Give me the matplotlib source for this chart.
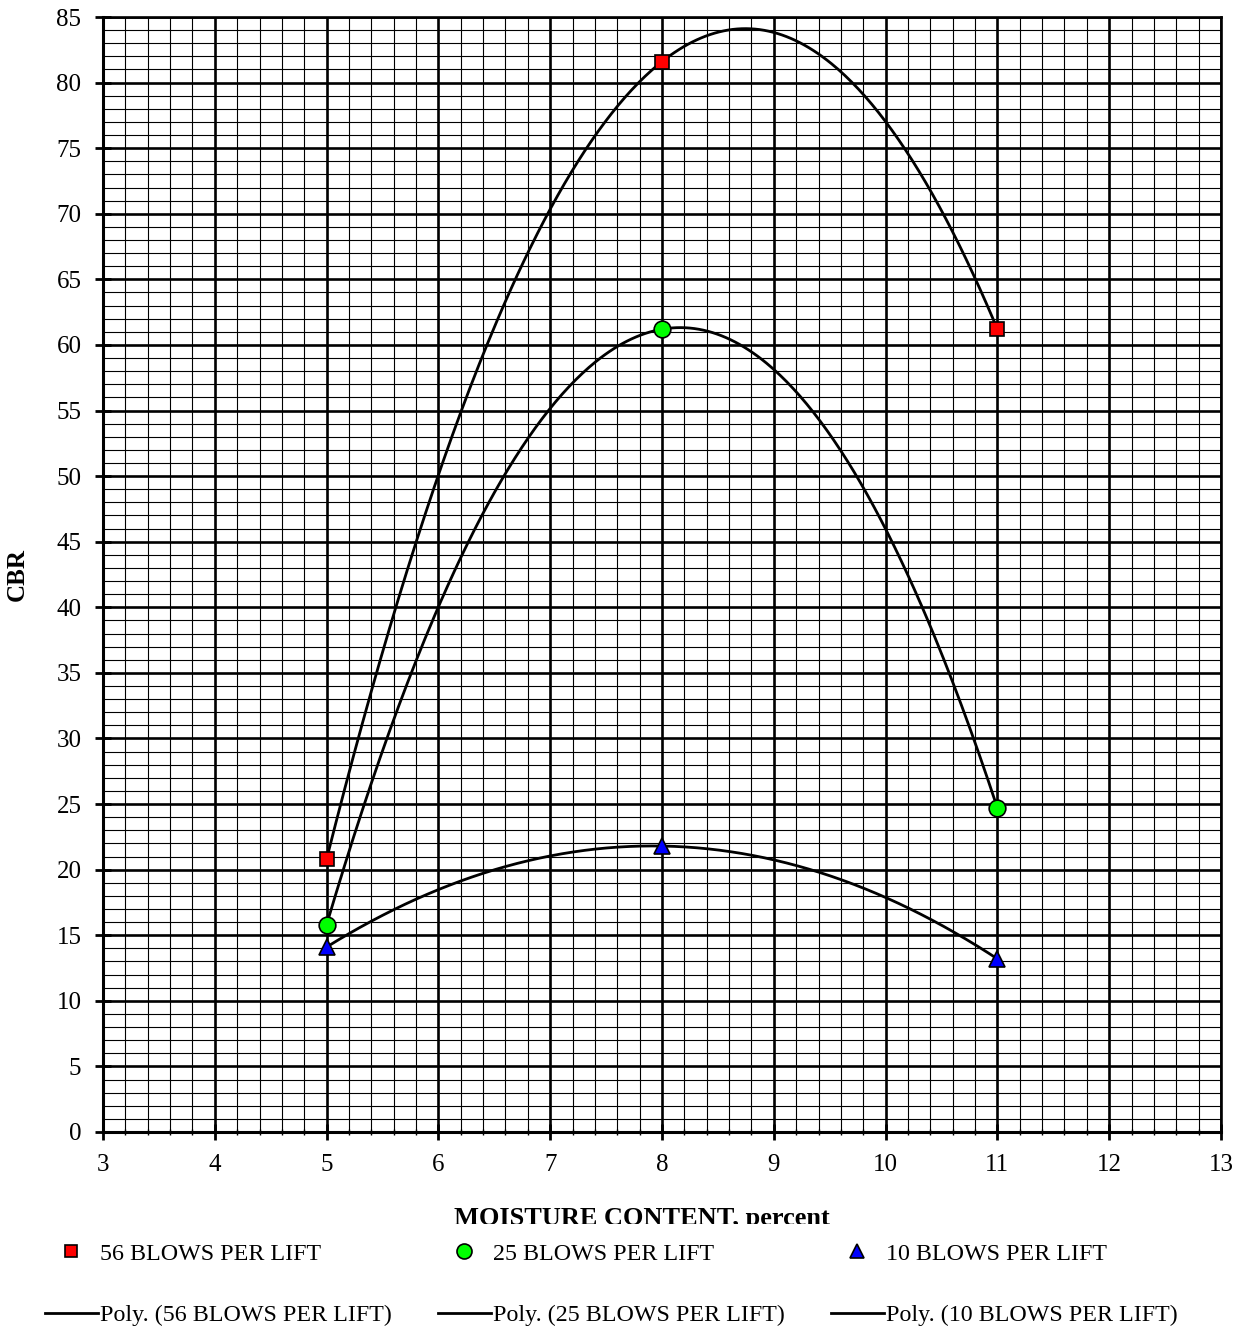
import numpy as np
import matplotlib
matplotlib.use("Agg")
import matplotlib.pyplot as plt
from matplotlib.lines import Line2D
from matplotlib.transforms import Bbox
from matplotlib.ticker import MultipleLocator

# Compaction / CBR test results
moisture = [5, 8, 11]
cbr_56 = [20.8, 81.6, 61.2]
cbr_25 = [15.8, 61.2, 24.7]
cbr_10 = [14.1, 21.8, 13.2]

labels = ["56 BLOWS PER LIFT", "25 BLOWS PER LIFT", "10 BLOWS PER LIFT"]
x_ticks = list(range(3, 14))
y_ticks = list(range(0, 90, 5))

plt.rcParams["font.family"] = ["Liberation Serif", "DejaVu Serif"]

fig = plt.figure(figsize=(12.51, 13.30), dpi=100)
ax = fig.add_axes([103 / 1251, 1 - 1132 / 1330, 1118 / 1251, 1115 / 1330])

ax.set_xlim(3, 13)
ax.set_ylim(0, 85)
ax.set_xticks(x_ticks)
ax.set_yticks(y_ticks)
ax.xaxis.set_minor_locator(MultipleLocator(0.2))
ax.yaxis.set_minor_locator(MultipleLocator(1))

# graph-paper grid
ax.grid(which="major", color="black", linewidth=1.9, zorder=1)
ax.grid(which="minor", color="black", linewidth=0.8, zorder=1)
ax.set_axisbelow(True)
for side in ["left", "bottom"]:
    ax.spines[side].set_linewidth(2.2)
for side in ["top", "right"]:
    ax.spines[side].set_linewidth(1.9)

ax.tick_params(axis="both", which="major", direction="inout", length=11,
               width=2.0, labelsize=18)
ax.tick_params(axis="x", which="major", pad=10)
ax.tick_params(axis="y", which="major", pad=10)
ax.tick_params(axis="x", which="minor", direction="inout", length=4, width=1.0)
ax.tick_params(axis="y", which="minor", length=0)

ax.set_ylabel("CBR", fontsize=18, fontweight="bold", labelpad=20)

# series: markers + 2nd order polynomial trendlines
series = [
    (cbr_56, "s", "#ff0000", 10),
    (cbr_25, "o", "#00ff00", 12),
    (cbr_10, "^", "#0000ff", 11),
]
xs = np.linspace(moisture[0], moisture[-1], 300)
marker_handles = []
line_handles = []
for (vals, mk, col, ms), lab in zip(series, labels):
    coef = np.polyfit(moisture, vals, 2)
    ln, = ax.plot(xs, np.polyval(coef, xs), color="black", linewidth=2.0,
                  zorder=3, label="Poly. (%s)" % lab)
    pts, = ax.plot(moisture, vals, linestyle="none", marker=mk, markersize=ms,
                   markerfacecolor=col, markeredgecolor="black",
                   markeredgewidth=1.2, zorder=4, label=lab, clip_on=False)
    marker_handles.append(Line2D([], [], linestyle="none", marker=mk,
                                 markersize=ms * 0.9, markerfacecolor=col,
                                 markeredgecolor="black", markeredgewidth=1.2))
    line_handles.append(Line2D([], [], color="black", linewidth=2.0))

# x-axis title, partly hidden beneath the legend band
xt = fig.text(642 / 1251, 1 - 1218 / 1330, "MOISTURE CONTENT, percent",
              ha="center", va="center", fontsize=19, fontweight="bold")
xt.set_clip_box(Bbox.from_extents(0, 1330 - 1224, 1251, 1330))
xt.set_clip_on(True)

# legend: one column per series, marker row on top, trendline row below
col_x = [45, 438, 831]
for i, lab in enumerate(labels):
    leg = fig.legend([marker_handles[i], line_handles[i]],
                     [lab, "Poly. (%s)" % lab],
                     loc="upper left",
                     bbox_to_anchor=(col_x[i] / 1251, 1 - 1243 / 1330),
                     frameon=False, fontsize=17.3, handlelength=2.2,
                     handletextpad=0.08, labelspacing=1.65,
                     borderpad=0, borderaxespad=0)

fig.savefig("out.png", dpi=100)
